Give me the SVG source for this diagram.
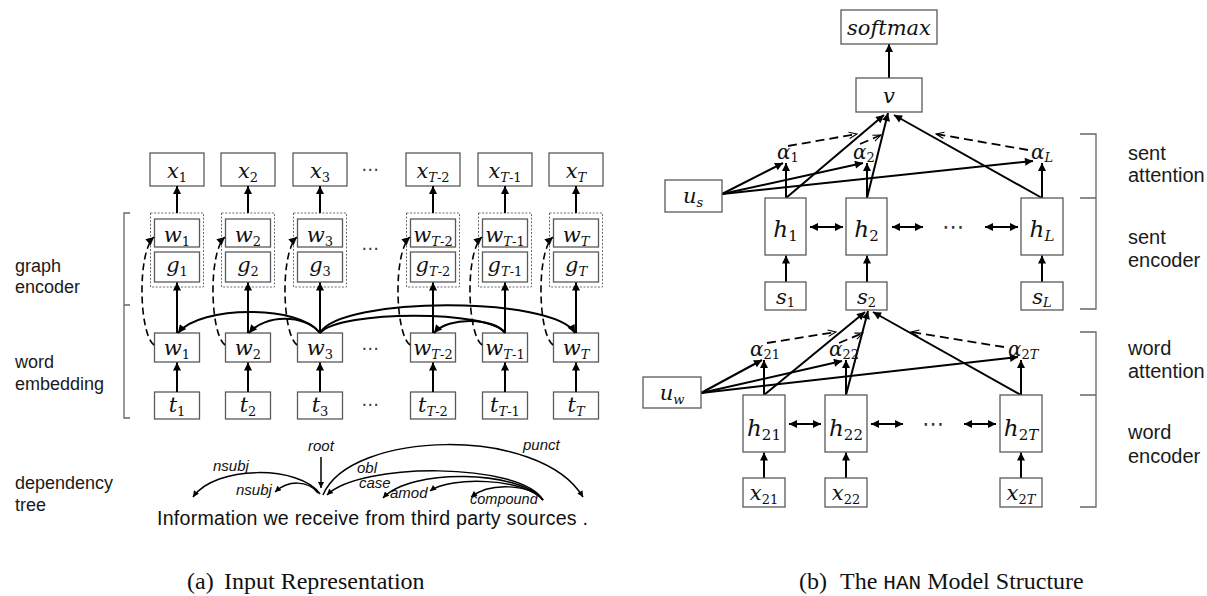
<svg xmlns="http://www.w3.org/2000/svg" width="1207" height="596" viewBox="0 0 1207 596">
<style>
.box{fill:#fff;stroke:#5a5a5a;stroke-width:1.3}
.dot{fill:none;stroke:#6a6a6a;stroke-width:1;stroke-dasharray:2 1.6}
.m{font-family:"DejaVu Serif",serif;font-style:italic;font-size:21px;fill:#111;text-anchor:middle}
.h{font-size:23px}
.su{font-style:normal;font-size:13px}
.si{font-style:italic;font-size:13px}
.sh{font-style:normal;font-size:15px}
.shi{font-style:italic;font-size:15px}
.lab{font-family:"Liberation Sans",Arial,sans-serif;font-size:18px;fill:#1a1a1a}
.labr{font-family:"Liberation Sans",Arial,sans-serif;font-size:20px;fill:#1a1a1a}
.dep{font-family:"Liberation Sans",Arial,sans-serif;font-style:italic;font-size:15px;fill:#111}
.sent{font-family:"Liberation Sans",Arial,sans-serif;font-size:19.6px;fill:#111}
.cap{font-family:"Liberation Serif","Times New Roman",serif;font-size:24px;fill:#111}
.mono{font-family:"Liberation Mono","Courier New",monospace;font-size:21px}
.ar{fill:none;stroke:#000;stroke-width:2;marker-end:url(#ah)}
.ln{fill:none;stroke:#000;stroke-width:2}
.da{fill:none;stroke:#000;stroke-width:1.6;stroke-dasharray:7 4;marker-end:url(#ah)}
.dr{fill:none;stroke:#000;stroke-width:1.8;stroke-dasharray:9 5;marker-end:url(#ch)}
.dp{fill:none;stroke:#000;stroke-width:1.5;marker-end:url(#ahs)}
.bi{fill:none;stroke:#000;stroke-width:2;marker-start:url(#ah2);marker-end:url(#ah2)}
.br{fill:none;stroke:#666;stroke-width:1.3}
.ell{font-family:"DejaVu Sans",sans-serif;font-size:17px;fill:#333;text-anchor:middle}
.ellr{font-family:"DejaVu Sans",sans-serif;font-size:22px;fill:#333;text-anchor:middle}
</style>
<defs>
<marker id="ah" viewBox="0 0 10 10" refX="10" refY="5" markerUnits="userSpaceOnUse" markerWidth="9" markerHeight="8" orient="auto"><path d="M0,0 L10,5 L0,10 z" fill="#000"/></marker>
<marker id="ah2" viewBox="0 0 10 10" refX="10" refY="5" markerUnits="userSpaceOnUse" markerWidth="9" markerHeight="8" orient="auto-start-reverse"><path d="M0,0 L10,5 L0,10 z" fill="#000"/></marker>
<marker id="ahs" viewBox="0 0 10 10" refX="10" refY="5" markerUnits="userSpaceOnUse" markerWidth="7" markerHeight="6" orient="auto"><path d="M0,0 L10,5 L0,10 z" fill="#000"/></marker>
<marker id="ch" viewBox="0 0 10 10" refX="10" refY="5" markerUnits="userSpaceOnUse" markerWidth="11" markerHeight="8" orient="auto"><path d="M0,1 L10,5 L0,9" fill="none" stroke="#000" stroke-width="1.3"/></marker>
</defs>
<rect width="1207" height="596" fill="#fff"/>

<!-- (a) input representation: side labels and bracket -->
<g id="labels-left">
<text class="lab" x="15" y="272">graph</text>
<text class="lab" x="15" y="293">encoder</text>
<text class="lab" x="15" y="368">word</text>
<text class="lab" x="15" y="390">embedding</text>
<text class="lab" x="15" y="489">dependency</text>
<text class="lab" x="15" y="511">tree</text>
<path class="br" d="M130,213 H124 V418 H130 M124,305 H130"/>
</g>

<!-- output row x -->
<g id="x1"><rect class="box" x="150" y="153" width="54" height="33"/><text class="m" x="177" y="178">x<tspan class="su" dy="4">1</tspan></text></g>
<g id="x2"><rect class="box" x="221" y="153" width="54" height="33"/><text class="m" x="248" y="178">x<tspan class="su" dy="4">2</tspan></text></g>
<g id="x3"><rect class="box" x="293" y="153" width="54" height="33"/><text class="m" x="320" y="178">x<tspan class="su" dy="4">3</tspan></text></g>
<g id="xT-2"><rect class="box" x="406" y="153" width="54" height="33"/><text class="m" x="433" y="178">x<tspan class="si" dy="4">T</tspan><tspan class="su">-2</tspan></text></g>
<g id="xT-1"><rect class="box" x="478" y="153" width="54" height="33"/><text class="m" x="505" y="178">x<tspan class="si" dy="4">T</tspan><tspan class="su">-1</tspan></text></g>
<g id="xT"><rect class="box" x="549" y="153" width="54" height="33"/><text class="m" x="576" y="178">x<tspan class="si" dy="4">T</tspan></text></g>

<!-- graph encoder cells (w over g inside dotted frame) -->
<g id="enc1"><rect class="dot" x="150.5" y="213" width="53" height="74"/>
<rect class="box" x="154.5" y="219" width="45" height="28"/><text class="m" x="177" y="242">w<tspan class="su" dy="4">1</tspan></text>
<rect class="box" x="154.5" y="252" width="45" height="30"/><text class="m" x="177" y="272">g<tspan class="su" dy="4">1</tspan></text></g>
<g id="enc2"><rect class="dot" x="221.5" y="213" width="53" height="74"/>
<rect class="box" x="225.5" y="219" width="45" height="28"/><text class="m" x="248" y="242">w<tspan class="su" dy="4">2</tspan></text>
<rect class="box" x="225.5" y="252" width="45" height="30"/><text class="m" x="248" y="272">g<tspan class="su" dy="4">2</tspan></text></g>
<g id="enc3"><rect class="dot" x="293.5" y="213" width="53" height="74"/>
<rect class="box" x="297.5" y="219" width="45" height="28"/><text class="m" x="320" y="242">w<tspan class="su" dy="4">3</tspan></text>
<rect class="box" x="297.5" y="252" width="45" height="30"/><text class="m" x="320" y="272">g<tspan class="su" dy="4">3</tspan></text></g>
<g id="encT-2"><rect class="dot" x="406.5" y="213" width="53" height="74"/>
<rect class="box" x="410.5" y="219" width="45" height="28"/><text class="m" x="433" y="242">w<tspan class="si" dy="4">T</tspan><tspan class="su">-2</tspan></text>
<rect class="box" x="410.5" y="252" width="45" height="30"/><text class="m" x="433" y="272">g<tspan class="si" dy="4">T</tspan><tspan class="su">-2</tspan></text></g>
<g id="encT-1"><rect class="dot" x="478.5" y="213" width="53" height="74"/>
<rect class="box" x="482.5" y="219" width="45" height="28"/><text class="m" x="505" y="242">w<tspan class="si" dy="4">T</tspan><tspan class="su">-1</tspan></text>
<rect class="box" x="482.5" y="252" width="45" height="30"/><text class="m" x="505" y="272">g<tspan class="si" dy="4">T</tspan><tspan class="su">-1</tspan></text></g>
<g id="encT"><rect class="dot" x="549.5" y="213" width="53" height="74"/>
<rect class="box" x="553.5" y="219" width="45" height="28"/><text class="m" x="576" y="242">w<tspan class="si" dy="4">T</tspan></text>
<rect class="box" x="553.5" y="252" width="45" height="30"/><text class="m" x="576" y="272">g<tspan class="si" dy="4">T</tspan></text></g>

<!-- word embedding row -->
<g id="w1"><rect class="box" x="154.5" y="333" width="45" height="29"/><text class="m" x="177" y="355">w<tspan class="su" dy="4">1</tspan></text></g>
<g id="w2"><rect class="box" x="225.5" y="333" width="45" height="29"/><text class="m" x="248" y="355">w<tspan class="su" dy="4">2</tspan></text></g>
<g id="w3"><rect class="box" x="297.5" y="333" width="45" height="29"/><text class="m" x="320" y="355">w<tspan class="su" dy="4">3</tspan></text></g>
<g id="wT-2"><rect class="box" x="410.5" y="333" width="45" height="29"/><text class="m" x="433" y="355">w<tspan class="si" dy="4">T</tspan><tspan class="su">-2</tspan></text></g>
<g id="wT-1"><rect class="box" x="482.5" y="333" width="45" height="29"/><text class="m" x="505" y="355">w<tspan class="si" dy="4">T</tspan><tspan class="su">-1</tspan></text></g>
<g id="wT"><rect class="box" x="553.5" y="333" width="45" height="29"/><text class="m" x="576" y="355">w<tspan class="si" dy="4">T</tspan></text></g>

<!-- token row -->
<g id="t1"><rect class="box" x="154.5" y="392" width="45" height="27"/><text class="m" x="177" y="412">t<tspan class="su" dy="4">1</tspan></text></g>
<g id="t2"><rect class="box" x="225.5" y="392" width="45" height="27"/><text class="m" x="248" y="412">t<tspan class="su" dy="4">2</tspan></text></g>
<g id="t3"><rect class="box" x="297.5" y="392" width="45" height="27"/><text class="m" x="320" y="412">t<tspan class="su" dy="4">3</tspan></text></g>
<g id="tT-2"><rect class="box" x="410.5" y="392" width="45" height="27"/><text class="m" x="433" y="412">t<tspan class="si" dy="4">T</tspan><tspan class="su">-2</tspan></text></g>
<g id="tT-1"><rect class="box" x="482.5" y="392" width="45" height="27"/><text class="m" x="505" y="412">t<tspan class="si" dy="4">T</tspan><tspan class="su">-1</tspan></text></g>
<g id="tT"><rect class="box" x="553.5" y="392" width="45" height="27"/><text class="m" x="576" y="412">t<tspan class="si" dy="4">T</tspan></text></g>

<g id="ellipsis-left">
<text class="ell" x="370" y="175">⋯</text>
<text class="ell" x="370" y="254">⋯</text>
<text class="ell" x="370" y="354">⋯</text>
<text class="ell" x="370" y="410">⋯</text>
</g>

<!-- dependency tree -->
<g id="dependency-tree">
<text class="sent" x="157" y="525" textLength="431">Information we receive from third party sources .</text>
<text class="dep" x="308" y="451">root</text>
<text class="dep" x="213" y="471">nsubj</text>
<text class="dep" x="236" y="495">nsubj</text>
<text class="dep" x="523" y="450">punct</text>
<text class="dep" x="357" y="473">obl</text>
<text class="dep" x="359" y="488">case</text>
<text class="dep" x="390" y="498">amod</text>
<text class="dep" x="470" y="504" style="font-size:14.5px">compound</text>
</g>

<!-- connectors -->
<g id="connectors">
<!-- left: encoder output to x -->
<path class="ar" d="M177,213 V186"/><path class="ar" d="M248,213 V186"/><path class="ar" d="M320,213 V186"/>
<path class="ar" d="M433,213 V186"/><path class="ar" d="M505,213 V186"/><path class="ar" d="M576,213 V186"/>
<!-- left: embedding to graph encoder -->
<path class="ar" d="M177,333 V282.5"/><path class="ar" d="M248,333 V282.5"/><path class="ar" d="M320,333 V282.5"/>
<path class="ar" d="M433,333 V282.5"/><path class="ar" d="M505,333 V282.5"/><path class="ar" d="M576,333 V282.5"/>
<!-- left: token to embedding -->
<path class="ar" d="M177,392 V362.5"/><path class="ar" d="M248,392 V362.5"/><path class="ar" d="M320,392 V362.5"/>
<path class="ar" d="M433,392 V362.5"/><path class="ar" d="M505,392 V362.5"/><path class="ar" d="M576,392 V362.5"/>
<!-- left: skip connections from embedding to encoder -->
<path class="da" d="M154,345 C139,334 137,252 154,237"/>
<path class="da" d="M225,345 C210,334 208,252 225,237"/>
<path class="da" d="M297,345 C282,334 280,252 297,237"/>
<path class="da" d="M410,345 C395,334 393,252 410,237"/>
<path class="da" d="M482,345 C467,334 465,252 482,237"/>
<path class="da" d="M553,345 C538,334 536,252 553,237"/>
<!-- left: graph edges between embeddings -->
<path class="ar" d="M320,333 C300,305 200,305 178,333"/>
<path class="ar" d="M320,333 C305,314 265,314 249,333"/>
<path class="ar" d="M320,333 C340,296 555,296 575,333"/>
<path class="ln" d="M320,333 C340,310 490,310 505,333"/>
<path class="ar" d="M505,333 C495,318 448,316 434,333"/>
<!-- dependency arcs -->
<path class="dp" d="M321,457 V488"/>
<path class="dp" d="M320,494 C300,465 215,465 193,497"/>
<path class="dp" d="M318,493 C308,480 288,480 275,492"/>
<path class="dp" d="M323,495 C350,430 540,425 583,497"/>
<path class="dp" d="M543,500 C520,462 360,462 327,495"/>
<path class="dp" d="M543,500 C520,470 410,468 383,498"/>
<path class="dp" d="M543,500 C525,478 450,476 430,491"/>
<path class="dp" d="M543,500 C530,484 490,482 471,497"/>

<!-- right: sentence level -->
<path class="ar" d="M889,78 V44"/>
<path class="ar" d="M722,194 L783,163"/>
<path class="ar" d="M722,194 L863,163"/>
<path class="ar" d="M722,194 L1033,161"/>
<path class="ar" d="M786,198 V163"/><path class="ar" d="M867,198 V163"/><path class="ar" d="M1042,198 V163"/>
<path class="ar" d="M786,198 L884,115"/>
<path class="ar" d="M867,198 L888,113"/>
<path class="ar" d="M1042,198 L894,115"/>
<path class="dr" d="M788,146 L857,134"/>
<path class="dr" d="M860,144 L881,135"/>
<path class="dr" d="M1028,150 L936,134"/>
<path class="bi" d="M810,227 H843"/><path class="bi" d="M892,227 H923"/><path class="bi" d="M985,227 H1018"/>
<path class="ar" d="M786,282 V255.5"/><path class="ar" d="M867,282 V255.5"/><path class="ar" d="M1042,282 V255.5"/>
<!-- right: word level -->
<path class="ar" d="M701,393 L762,360"/>
<path class="ar" d="M701,393 L842,361"/>
<path class="ar" d="M701,393 L1018,357"/>
<path class="ar" d="M764,395 V360"/><path class="ar" d="M846,395 V360"/><path class="ar" d="M1021,395 V360"/>
<path class="ar" d="M764,395 L865,312"/>
<path class="ar" d="M846,395 L868,311"/>
<path class="ar" d="M1021,395 L873,312"/>
<path class="dr" d="M767,343 L836,332"/>
<path class="dr" d="M839,343 L863,333"/>
<path class="dr" d="M1004,347 L911,332"/>
<path class="bi" d="M789,424 H821"/><path class="bi" d="M871,424 H903"/><path class="bi" d="M964,424 H996"/>
<path class="ar" d="M764,478 V452.5"/><path class="ar" d="M846,478 V452.5"/><path class="ar" d="M1021,478 V452.5"/>
</g>

<!-- (b) HAN: nodes -->
<g id="softmax"><rect class="box" x="841" y="10" width="96" height="34"/><text class="m" x="889" y="35">softmax</text></g>
<g id="v"><rect class="box" x="856" y="78" width="66" height="34"/><text class="m" x="889" y="103">v</text></g>
<g id="us"><rect class="box" x="665" y="180" width="57" height="32"/><text class="m" x="693" y="203">u<tspan class="si" dy="4">s</tspan></text></g>
<g id="alpha1"><text class="m" style="text-anchor:start;font-size:20px" x="777" y="159">α<tspan class="su" dy="3">1</tspan></text></g>
<g id="alpha2"><text class="m" style="text-anchor:start;font-size:20px" x="853" y="159">α<tspan class="su" dy="3">2</tspan></text></g>
<g id="alphaL"><text class="m" style="text-anchor:start;font-size:20px" x="1031" y="159">α<tspan class="si" dy="3">L</tspan></text></g>
<g id="h1"><rect class="box" x="765" y="198" width="41" height="57"/><text class="m h" x="785.5" y="237">h<tspan class="sh" dy="4">1</tspan></text></g>
<g id="h2"><rect class="box" x="846" y="198" width="41" height="57"/><text class="m h" x="866.5" y="237">h<tspan class="sh" dy="4">2</tspan></text></g>
<g id="hL"><rect class="box" x="1021" y="198" width="42" height="57"/><text class="m h" x="1042" y="237">h<tspan class="shi" dy="4">L</tspan></text></g>
<g id="s1"><rect class="box" x="765" y="282" width="41" height="28"/><text class="m" x="785.5" y="304">s<tspan class="su" dy="3">1</tspan></text></g>
<g id="s2"><rect class="box" x="846" y="282" width="41" height="28"/><text class="m" x="866.5" y="304">s<tspan class="su" dy="3">2</tspan></text></g>
<g id="sL"><rect class="box" x="1021" y="282" width="42" height="28"/><text class="m" x="1042" y="304">s<tspan class="si" dy="3">L</tspan></text></g>
<g id="uw"><rect class="box" x="643" y="377" width="58" height="31"/><text class="m" x="672" y="400">u<tspan class="si" dy="4">w</tspan></text></g>
<g id="alpha21"><text class="m" style="text-anchor:start;font-size:20px" x="750" y="356">α<tspan class="su" dy="3">21</tspan></text></g>
<g id="alpha22"><text class="m" style="text-anchor:start;font-size:20px" x="829" y="356">α<tspan class="su" dy="3">22</tspan></text></g>
<g id="alpha2T"><text class="m" style="text-anchor:start;font-size:20px" x="1008" y="356">α<tspan class="su" dy="3">2</tspan><tspan class="si">T</tspan></text></g>
<g id="h21"><rect class="box" x="743" y="395" width="42" height="57"/><text class="m h" x="764" y="436">h<tspan class="sh" dy="4">21</tspan></text></g>
<g id="h22"><rect class="box" x="825" y="395" width="42" height="57"/><text class="m h" x="846" y="436">h<tspan class="sh" dy="4">22</tspan></text></g>
<g id="h2T"><rect class="box" x="1000" y="395" width="42" height="57"/><text class="m h" x="1021" y="436">h<tspan class="sh" dy="4">2</tspan><tspan class="shi">T</tspan></text></g>
<g id="x21"><rect class="box" x="743" y="478" width="42" height="29"/><text class="m" x="764" y="500">x<tspan class="su" dy="4">21</tspan></text></g>
<g id="x22"><rect class="box" x="825" y="478" width="42" height="29"/><text class="m" x="846" y="500">x<tspan class="su" dy="4">22</tspan></text></g>
<g id="x2T"><rect class="box" x="1000" y="478" width="42" height="29"/><text class="m" x="1021" y="500">x<tspan class="su" dy="4">2</tspan><tspan class="si">T</tspan></text></g>

<g id="ellipsis-right">
<text class="ellr" x="953" y="234">⋯</text>
<text class="ellr" x="933" y="431">⋯</text>
</g>

<g id="labels-right">
<path class="br" d="M1080,134 H1096 V309 H1080 M1080,198 H1096"/>
<path class="br" d="M1080,332 H1096 V507 H1080 M1080,395 H1096"/>
<text class="labr" x="1128" y="160">sent</text>
<text class="labr" x="1128" y="182">attention</text>
<text class="labr" x="1128" y="244">sent</text>
<text class="labr" x="1128" y="267">encoder</text>
<text class="labr" x="1128" y="355">word</text>
<text class="labr" x="1128" y="378">attention</text>
<text class="labr" x="1128" y="439">word</text>
<text class="labr" x="1128" y="463">encoder</text>
</g>

<g id="captions">
<text class="cap" x="187" y="589">(a)<tspan x="224">Input Representation</tspan></text>
<text class="cap" x="799" y="589">(b)<tspan x="840">The <tspan class="mono">HAN</tspan> Model Structure</tspan></text>
</g>
</svg>
